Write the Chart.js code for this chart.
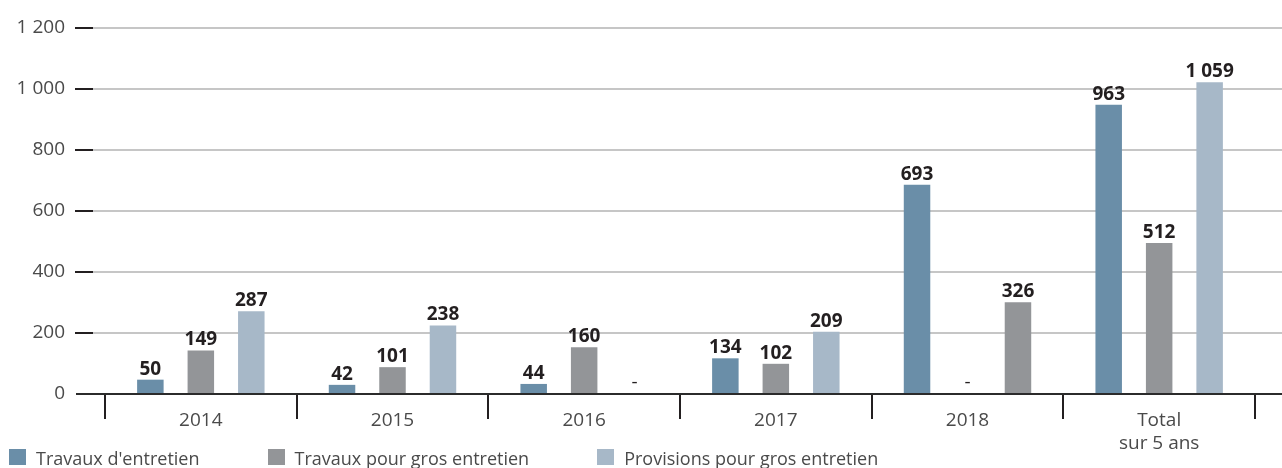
<!DOCTYPE html>
<html>
<head>
<meta charset="utf-8">
<script src="https://cdn.jsdelivr.net/npm/chart.js@4/dist/chart.umd.min.js"></script>
<style>
  html, body { margin: 0; padding: 0; background: #ffffff; }
  #wrap { position: relative; width: 1282px; height: 468px; overflow: hidden; }
  #legend { position: absolute; left: 9px; top: 449px; display: flex; font-family: 'Open Sans', sans-serif; font-size: 18px; line-height: 18px; color: #4a4a4a; white-space: nowrap; }
  .item { display: flex; align-items: flex-start; margin-right: 68px; }
  .box { width: 17px; height: 16px; margin-right: 10px; }
</style>
</head>
<body>
<div id="wrap">
  <canvas id="c" width="1282" height="468"></canvas>
  <div id="legend"></div>
</div>
<script>
// ---- data ----
const categories = ['2014', '2015', '2016', '2017', '2018', ['Total', 'sur 5 ans']];
const seriesNames = ["Travaux d'entretien", 'Travaux pour gros entretien', 'Provisions pour gros entretien'];
// printed value labels
const labelsEntretien = ['50', '42', '44', '134', '693', '963'];
const labelsGrosEntretien = ['149', '101', '160', '102', '-', '512'];
const labelsProvisions = ['287', '238', '-', '209', '326', '1 059'];
// bar heights as drawn in the picture (null = no bar, shown as "-")
const barsEntretien = [47, 30, 33, 117, 686, 948];
const barsGrosEntretien = [143, 88, 153, 99, null, 495];
const barsProvisions = [271, 225, null, 204, 301, 1022];
const yTickLabels = ['0', '200', '400', '600', '800', '1 000', '1 200'];
const grayedProvisionYear = '2018';

const COL_BLUE = '#6a8ea8';
const COL_GRAY = '#939598';
const COL_LIGHT = '#a7b8c8';
const FONT = "'Open Sans', sans-serif";

const valueLabels = [labelsEntretien, labelsGrosEntretien, labelsProvisions];

const gridPlugin = {
  id: 'customGrid',
  beforeDatasetsDraw(chart) {
    const ctx = chart.ctx, y = chart.scales.y;
    ctx.save();
    y.ticks.forEach(t => {
      if (t.value === 0) return;
      const py = Math.round(y.getPixelForValue(t.value));
      ctx.fillStyle = '#c6c6c6';
      ctx.fillRect(93, py - 1, chart.width - 93, 2);
      ctx.fillStyle = '#231f20';
      ctx.fillRect(75, py - 1, 18, 2);
    });
    ctx.restore();
  },
  afterDatasetsDraw(chart) {
    const ctx = chart.ctx, y = chart.scales.y;
    const y0 = Math.round(y.getPixelForValue(0));
    ctx.save();
    ctx.fillStyle = '#2b2b2b';
    ctx.fillRect(76, y0 - 1, chart.width - 76, 2);
    // value labels
    ctx.textAlign = 'center';
    ctx.textBaseline = 'alphabetic';
    ctx.fillStyle = '#231f20';
    chart.data.datasets.forEach((ds, i) => {
      const meta = chart.getDatasetMeta(i);
      meta.data.forEach((bar, j) => {
        const txt = valueLabels[i][j];
        if (ds.data[j] === null) {
          ctx.font = 'normal 19px ' + FONT;
          ctx.fillText(txt, bar.x, y0 - 6);
        } else {
          ctx.font = 'bold 19px ' + FONT;
          ctx.fillText(txt, bar.x, bar.y - 5);
        }
      });
    });
    ctx.restore();
  }
};

const chart = new Chart(document.getElementById('c'), {
  type: 'bar',
  data: {
    labels: categories,
    datasets: [
      { label: seriesNames[0], data: barsEntretien, backgroundColor: COL_BLUE },
      { label: seriesNames[1], data: barsGrosEntretien, backgroundColor: COL_GRAY },
      { label: seriesNames[2], data: barsProvisions,
        backgroundColor: c => (categories[c.dataIndex] === grayedProvisionYear ? COL_GRAY : COL_LIGHT) }
    ]
  },
  options: {
    responsive: false,
    devicePixelRatio: 1,
    animation: false,
    categoryPercentage: 0.79,
    barPercentage: 0.525,
    layout: { autoPadding: false, padding: { top: 28, right: 27, left: 0, bottom: 0 } },
    plugins: { legend: { display: false }, tooltip: { enabled: false } },
    scales: {
      x: {
        offset: true,
        grid: { display: true, offset: true, drawOnChartArea: false, drawTicks: true, tickLength: 25, color: '#231f20', tickColor: '#231f20', lineWidth: 2 },
        border: { display: false },
        ticks: { padding: -10, color: '#4a4a4a', font: { family: FONT, size: 19 }, maxRotation: 0, autoSkip: false },
        afterFit(s) { s.height = 74; s.paddingLeft = 0; s.paddingRight = 0; }
      },
      y: {
        min: 0, max: 1200,
        grid: { display: false, drawTicks: false },
        border: { display: false },
        ticks: { stepSize: 200, padding: 40, color: '#4a4a4a', font: { family: FONT, size: 19 },
          callback: (v, i) => yTickLabels[i] },
        afterFit(s) { s.width = 105; s.paddingTop = 0; s.paddingBottom = 0; }
      }
    }
  },
  plugins: [gridPlugin]
});

// HTML legend
const legendColors = [COL_BLUE, COL_GRAY, COL_LIGHT];
const leg = document.getElementById('legend');
seriesNames.forEach((n, i) => {
  const it = document.createElement('div'); it.className = 'item';
  const b = document.createElement('div'); b.className = 'box'; b.style.background = legendColors[i];
  const t = document.createElement('span'); t.textContent = n;
  it.appendChild(b); it.appendChild(t); leg.appendChild(it);
});
</script>
</body>
</html>
